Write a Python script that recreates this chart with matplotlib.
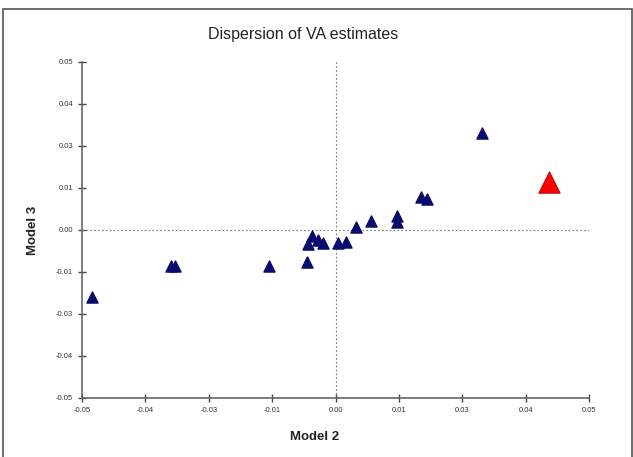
import matplotlib.pyplot as plt
from matplotlib.patches import Rectangle

# Model 2 (x) vs Model 3 (y) value-added estimates
model2 = [-0.0481, -0.0325, -0.0316, -0.0131, -0.0056, -0.0054, -0.0046,
          -0.0034, -0.0024, 0.0004, 0.0021, 0.0040, 0.0071, 0.0121, 0.0122,
          0.0168, 0.0180, 0.0288]
model3 = [-0.0199, -0.0106, -0.0106, -0.0106, -0.0095, -0.0042, -0.0017,
          -0.0030, -0.0038, -0.0038, -0.0036, 0.0008, 0.0027, 0.0042, 0.0025,
          0.0099, 0.0093, 0.0288]
highlight_x = [0.0422]
highlight_y = [0.0144]

tick_pos = [-0.05, -0.0375, -0.025, -0.0125, 0.0, 0.0125, 0.025, 0.0375, 0.05]
tick_labels = ["-0.05", "-0.04", "-0.03", "-0.01", "0.00", "0.01", "0.03", "0.04", "0.05"]

plt.rcParams['font.family'] = ['Liberation Sans', 'DejaVu Sans']

fig = plt.figure(figsize=(6.33, 4.57), dpi=100)
ax = fig.add_axes([82 / 633, 1 - 398 / 457, 507 / 633, 336 / 457])

# figure border
fig.patches.append(Rectangle((3 / 633, -0.05), 629 / 633, 1.05 - 8.5 / 457,
                             transform=fig.transFigure, fill=False,
                             edgecolor='#555555', linewidth=1.2))

ax.axhline(0, color='#777777', linestyle=(0, (1.5, 2)), linewidth=0.8)
ax.axvline(0, color='#777777', linestyle=(0, (1.5, 2)), linewidth=0.8)

ax.scatter(model2, model3, marker='^', s=64, color='#0b0b6e', zorder=3)
ax.scatter(highlight_x, highlight_y, marker='^', s=240, color='#ff0000',
           edgecolor='#aa0000', linewidth=0.6, zorder=3)

ax.set_xlim(-0.05, 0.05)
ax.set_ylim(-0.05, 0.05)
ax.set_xticks(tick_pos)
ax.set_xticklabels(tick_labels)
ax.set_yticks(tick_pos)
ax.set_yticklabels(tick_labels)
ax.tick_params(labelsize=5.5, labelcolor='#333333', color='#444444',
               length=6, width=1, direction='inout')

for side in ['top', 'right']:
    ax.spines[side].set_visible(False)
for side in ['left', 'bottom']:
    ax.spines[side].set_color('#666666')
    ax.spines[side].set_linewidth(1.2)

fig.text(303 / 633, 1 - 35 / 457, "Dispersion of VA estimates", fontsize=11.5,
         ha='center', va='center', color='#222222')
fig.text(315 / 633, 1 - 437 / 457, "Model 2", fontsize=9.5, fontweight='bold',
         ha='center', va='center', color='#222222')
fig.text(33 / 633, 1 - 230 / 457, "Model 3", fontsize=9.5, fontweight='bold',
         ha='center', va='center', rotation=90, color='#222222')

fig.savefig("out.png", dpi=100)
